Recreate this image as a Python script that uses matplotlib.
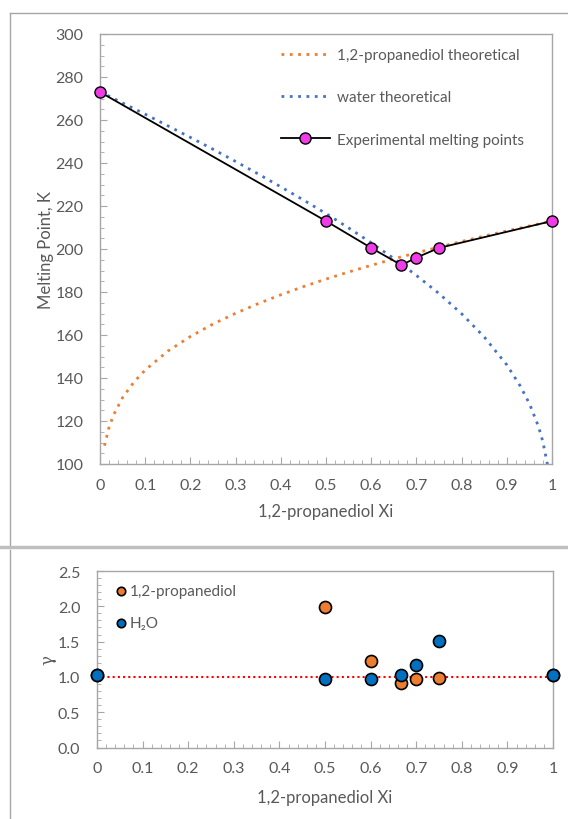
import matplotlib
matplotlib.use("Agg")
import matplotlib.pyplot as plt
from matplotlib.lines import Line2D
from matplotlib.ticker import MultipleLocator, FormatStrFormatter

# --- DATA ---
# theoretical liquidus curves
x_pd_theory = [0.01, 0.02, 0.03, 0.05, 0.075, 0.1, 0.15, 0.2, 0.25, 0.3, 0.35, 0.4,
               0.45, 0.5, 0.55, 0.6, 0.65, 0.7, 0.75, 0.8, 0.85, 0.9, 0.95, 1.0]
t_pd_theory = [108.5, 117.1, 122.8, 130.9, 138.1, 143.7, 152.5, 159.3, 165.1, 170.1, 174.6, 178.7,
               182.5, 186.0, 189.3, 192.4, 195.4, 198.2, 200.9, 203.5, 206.0, 208.4, 210.7, 213.0]

x_w_theory = [0.0, 0.05, 0.1, 0.15, 0.2, 0.25, 0.3, 0.35, 0.4, 0.45, 0.5, 0.55, 0.6,
              0.65, 0.7, 0.75, 0.8, 0.85, 0.9, 0.93, 0.95, 0.97, 0.98, 0.99]
t_w_theory = [273.2, 267.9, 262.7, 257.3, 251.9, 246.4, 240.7, 234.9, 228.9, 222.8, 216.5, 209.8, 202.9,
              195.6, 187.7, 179.3, 169.9, 159.1, 146.1, 136.2, 128.1, 117.5, 110.2, 99.7]

# experimental melting points
x_exp = [0.0, 0.5, 0.6, 0.667, 0.7, 0.75, 1.0]
t_exp = [273.0, 213.0, 200.5, 192.5, 196.0, 200.5, 213.0]

# activity coefficients
gamma_pd = [1.02, 1.99, 1.23, 0.91, 0.97, 0.99, 1.02]
gamma_w = [1.02, 0.97, 0.97, 1.03, 1.17, 1.51, 1.02]
x_gamma = [0.0, 0.5, 0.6, 0.667, 0.7, 0.75, 1.0]
x_ref = [0.0, 1.0]
gamma_ref = [1.0, 1.0]

x_ticks = [0, 0.1, 0.2, 0.3, 0.4, 0.5, 0.6, 0.7, 0.8, 0.9, 1]
x_ticklabels = ['0', '0.1', '0.2', '0.3', '0.4', '0.5', '0.6', '0.7', '0.8', '0.9', '1']

# --- STYLE ---
plt.rcParams['font.family'] = ['Lato', 'DejaVu Sans']
GREY = '#595959'
AXIS = '#a6a6a6'
ORANGE = '#ed7d31'
BLUE_LINE = '#4472c4'
BLUE_PT = '#0070c0'
MAGENTA = '#f03ce6'

W, H = 568, 820
fig = plt.figure(figsize=(W / 100, H / 100), dpi=100)


def style_axes(ax):
    for s in ax.spines.values():
        s.set_color(AXIS)
        s.set_linewidth(1.0)
    ax.tick_params(which='both', direction='in', colors=AXIS, labelcolor=GREY, labelsize=11.5)
    ax.tick_params(which='major', length=5)
    ax.tick_params(axis='x', which='major', pad=10)
    ax.tick_params(axis='y', which='major', pad=12)
    ax.tick_params(which='minor', length=3)
    ax.tick_params(top=False, right=False, which='both')


# --- TOP: melting points ---
ax1 = fig.add_axes([100 / W, 1 - 465 / H, 452 / W, 430 / H])
ax1.plot(x_pd_theory, t_pd_theory, ls=(0, (1, 2)), lw=2, color=ORANGE, label='1,2-propanediol theoretical')
ax1.plot(x_w_theory, t_w_theory, ls=(0, (1, 2)), lw=2, color=BLUE_LINE, label='water theoretical')
ax1.plot(x_exp, t_exp, '-o', color='black', lw=1.3, ms=8, mfc=MAGENTA, mec='black', mew=1.0,
         label='Experimental melting points', clip_on=False, zorder=5)
ax1.set_xlim(0, 1)
ax1.set_ylim(100, 300)
ax1.set_xticks(x_ticks)
ax1.set_xticklabels(x_ticklabels)
ax1.xaxis.set_minor_locator(MultipleLocator(0.02))
ax1.yaxis.set_major_locator(MultipleLocator(20))
ax1.yaxis.set_minor_locator(MultipleLocator(5))
style_axes(ax1)
ax1.set_xlabel('1,2-propanediol Xi', fontsize=12, color=GREY, labelpad=8)
ax1.set_ylabel('Melting Point, K', fontsize=12, color=GREY, labelpad=1)
ax1.legend(loc='upper left', bbox_to_anchor=(281 / W, 1 - 49 / H), bbox_transform=fig.transFigure,
           frameon=False, fontsize=11, handlelength=3.2, handletextpad=0.45, labelspacing=1.85,
           borderpad=0, borderaxespad=0, labelcolor=GREY)

# --- BOTTOM: activity coefficients ---
ax2 = fig.add_axes([97 / W, 1 - 748.5 / H, 456 / W, 176.5 / H])
ax2.plot(x_ref, gamma_ref, ls=(0, (1, 1.5)), lw=1.5, color='red', zorder=2)
ax2.scatter(x_gamma, gamma_pd, s=75, color=ORANGE, edgecolors='black', linewidths=1.2,
            label='1,2-propanediol', zorder=4, clip_on=False)
ax2.scatter(x_gamma, gamma_w, s=75, color=BLUE_PT, edgecolors='black', linewidths=1.2,
            label='H₂O', zorder=5, clip_on=False)
ax2.set_xlim(0, 1)
ax2.set_ylim(0, 2.5)
ax2.set_xticks(x_ticks)
ax2.set_xticklabels(x_ticklabels)
ax2.xaxis.set_minor_locator(MultipleLocator(0.02))
ax2.yaxis.set_major_locator(MultipleLocator(0.5))
ax2.yaxis.set_minor_locator(MultipleLocator(0.1))
ax2.yaxis.set_major_formatter(FormatStrFormatter('%.1f'))
style_axes(ax2)
ax2.set_xlabel('1,2-propanediol Xi', fontsize=12, color=GREY, labelpad=10)
ax2.set_ylabel('γ', fontsize=12, color=GREY, family='DejaVu Serif', labelpad=1)
ax2.legend(loc='upper left', bbox_to_anchor=(116 / W, 1 - 585 / H), bbox_transform=fig.transFigure,
           frameon=False, fontsize=11, handlelength=0.6, handletextpad=0.3, labelspacing=1.15,
           borderpad=0, borderaxespad=0, labelcolor=GREY, markerscale=0.7)

# --- chart frames ---
fig.add_artist(Line2D([10 / W, 10 / W], [1 - 14 / H, 1 - 546 / H], transform=fig.transFigure, color='#a6a6a6', lw=1))
fig.add_artist(Line2D([10 / W, 1], [1 - 14 / H, 1 - 14 / H], transform=fig.transFigure, color='#a6a6a6', lw=1))
fig.add_artist(Line2D([0, 1], [1 - 548 / H, 1 - 548 / H], transform=fig.transFigure, color='#bfbfbf', lw=2.5))
fig.add_artist(Line2D([10 / W, 10 / W], [1 - 551 / H, 0], transform=fig.transFigure, color='#a6a6a6', lw=1))

fig.savefig('out.png', dpi=100)
